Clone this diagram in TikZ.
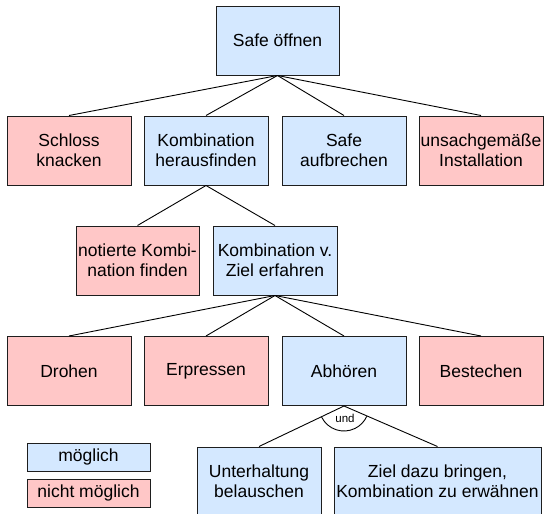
\documentclass[tikz,border=0pt]{standalone}
\usepackage{fontspec}
\setmainfont{Liberation Sans}
\usetikzlibrary{calc}
\definecolor{okblue}{RGB}{212,232,255}
\definecolor{nopink}{RGB}{255,199,199}
\definecolor{edgecol}{RGB}{30,30,30}
\begin{document}
\begin{tikzpicture}[x=1pt,y=1pt,
  box/.style={draw=edgecol,line width=1pt,minimum width=124pt,minimum height=69pt,inner sep=0pt,align=center,font=\fontsize{17.5}{20}\selectfont},
  yes/.style={box,fill=okblue},
  no/.style={box,fill=nopink},
  legend/.style={draw=edgecol,line width=1pt,minimum width=123pt,minimum height=28pt,inner sep=0pt,font=\fontsize{17.5}{20}\selectfont},
  link/.style={draw=black,line width=0.9pt}]
\clip (0,0) rectangle (544,-514);
\fill[white] (0,0) rectangle (544,-514);
% top
\node[yes,minimum width=123pt] (top) at (277.5,-40.5) {Safe öffnen};
% row 2
\node[no]  (schloss) at (69,-150.5) {Schloss\\knacken};
\node[yes] (kh)      at (206,-150.5) {Kombination\\herausfinden};
\node[yes] (auf)     at (344,-150.5) {Safe\\aufbrechen};
\node[no]  (unsach)  at (481,-150.5) {unsachgemäße\\Installation};
% row 3
\node[no,minimum width=123pt]  (notiert) at (137.5,-260.5) {notierte Kombi-\\nation finden};
\node[yes] (kv)      at (275,-260.5) {Kombination v.\\Ziel erfahren};
% row 4
\node[no]  (drohen)  at (69,-371) {Drohen};
\node[no]  (erpr)    at (206,-371) {Erpressen};
\node[yes] (abh)     at (344,-371) {Abhören};
\node[no]  (best)    at (481,-371) {Bestechen};
% row 5
\node[yes] (unter)   at (259,-481.5) {Unterhaltung\\belauschen};
\node[yes,minimum width=207pt] (ziel) at (437.5,-481.5) {Ziel dazu bringen,\\Kombination zu erwähnen};
% legend
\node[legend,fill=okblue] (lm) at (88.5,-457) {möglich};
\node[legend,fill=nopink] (ln) at (88.5,-493) {nicht möglich};
% connectors
\foreach \t in {schloss,kh,auf,unsach} \draw[link] (top.south) -- (\t.north);
\foreach \t in {notiert,kv} \draw[link] (kh.south) -- (\t.north);
\foreach \t in {drohen,erpr,abh,best} \draw[link] (kv.south) -- (\t.north);
\foreach \t in {unter,ziel} \draw[link] (abh.south) -- (\t.north);
% und arc
\draw[link] ($(abh.south)+(206.3:25)$) arc[start angle=206.3,end angle=335.7,radius=25];
\node[font=\fontsize{11.5}{12}\selectfont,inner sep=0pt] (und) at (345,-418) {und};
\end{tikzpicture}
\end{document}
